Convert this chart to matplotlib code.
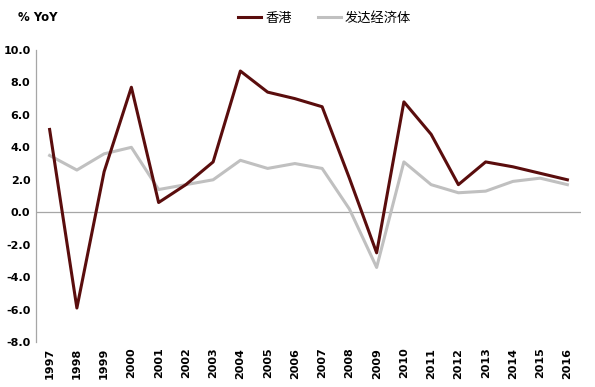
import matplotlib
matplotlib.use('Agg')
import matplotlib.pyplot as plt

plt.rcParams['font.family'] = ['Noto Sans CJK SC', 'DejaVu Sans']

# Данные
years = [str(y) for y in range(1997, 2017)]
hong_kong = [5.1, -5.9, 2.5, 7.7, 0.6, 1.7, 3.1, 8.7, 7.4, 7.0,
             6.5, 2.1, -2.5, 6.8, 4.8, 1.7, 3.1, 2.8, 2.4, 2.0]
developed = [3.5, 2.6, 3.6, 4.0, 1.4, 1.7, 2.0, 3.2, 2.7, 3.0,
             2.7, 0.2, -3.4, 3.1, 1.7, 1.2, 1.3, 1.9, 2.1, 1.7]
y_ticks = [10, 8, 6, 4, 2, 0, -2, -4, -6, -8]

fig = plt.figure(figsize=(5.95, 3.87), dpi=100)
ax = fig.add_axes([0.0605, 0.116, 0.916, 0.755])

x = list(range(len(years)))
ax.plot(x, hong_kong, color='#5a0d0d', lw=2.2, label='香港', zorder=3)
ax.plot(x, developed, color='#c0c0c0', lw=2.2, label='发达经济体', zorder=2)
ax.axhline(0, color='#a6a6a6', lw=0.9, zorder=1)

ax.set_xlim(-0.5, len(years) - 0.5)
ax.set_ylim(-8, 10)
ax.set_yticks(y_ticks)
ax.set_yticklabels([f'{v:.1f}' for v in y_ticks], fontsize=8, fontweight='bold',
                   family='DejaVu Sans')
ax.set_xticks(x)
ax.set_xticklabels(years, rotation=90, fontsize=8, fontweight='bold', family='DejaVu Sans')
ax.tick_params(axis='both', length=0, pad=4)

for s in ['top', 'right', 'bottom']:
    ax.spines[s].set_visible(False)
ax.spines['left'].set_color('#a6a6a6')
ax.spines['left'].set_linewidth(0.9)

fig.text(0.03, 0.945, '% YoY', fontsize=8.5, fontweight='bold', family='DejaVu Sans')
fig.legend(loc='upper left', bbox_to_anchor=(0.38, 1.0), ncol=2, frameon=False,
           fontsize=9.5, handlelength=1.75, handletextpad=0.3, columnspacing=2.0)

fig.savefig('out.png', dpi=100)
